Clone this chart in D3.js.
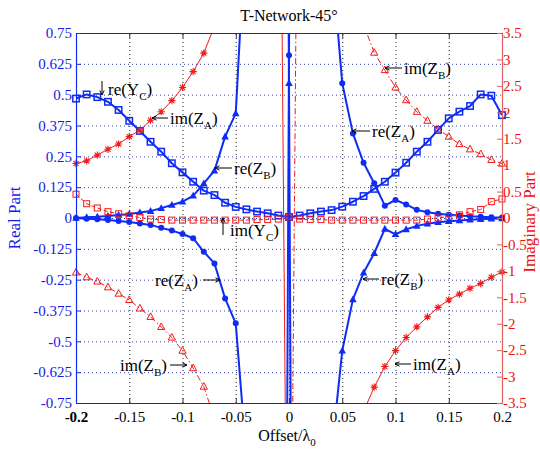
<!DOCTYPE html>
<html><head><meta charset="utf-8">
<script src="https://cdn.jsdelivr.net/npm/d3@7"></script>
<style>body{margin:0;background:#fff}</style>
</head><body><svg id="c" width="540" height="451"></svg>
<script>
// ---------- data ----------
const xTickVals = [-0.2,-0.15,-0.1,-0.05,0,0.05,0.1,0.15,0.2];
const xTickLabels = ["-0.2","-0.15","-0.1","-0.05","0","0.05","0.1","0.15","0.2"];
const leftTickVals = [0.75,0.625,0.5,0.375,0.25,0.125,0,-0.125,-0.25,-0.375,-0.5,-0.625,-0.75];
const leftTickLabels = ["0.75","0.625","0.5","0.375","0.25","0.125","0","-0.125","-0.25","-0.375","-0.5","-0.625","-0.75"];
const rightTickVals = [3.5,3,2.5,2,1.5,1,0.5,0,-0.5,-1,-1.5,-2,-2.5,-3,-3.5];
const rightTickLabels = ["3.5","3","2.5","2","1.5","1","0.5","0","-0.5","-1","-1.5","-2","-2.5","-3","-3.5"];

const offset = [-0.20,-0.19,-0.18,-0.17,-0.16,-0.15,-0.14,-0.13,-0.12,-0.11,-0.10,-0.09,-0.08,-0.07,-0.06,-0.05,-0.04,-0.03,-0.02,-0.01,0,
  0.01,0.02,0.03,0.04,0.05,0.06,0.07,0.08,0.09,0.10,0.11,0.12,0.13,0.14,0.15,0.16,0.17,0.18,0.19,0.20];
const reYC = [0.484,0.501,0.49,0.471,0.438,0.394,0.353,0.309,0.269,0.222,0.185,0.147,0.111,0.093,0.062,0.045,0.035,0.026,0.019,0.01,0.004,
  0.01,0.019,0.026,0.032,0.046,0.066,0.089,0.118,0.147,0.184,0.224,0.269,0.309,0.357,0.404,0.431,0.454,0.501,0.496,0.417];
const imYC = [0.45,0.27,0.19,0.12,0.08,0.04,0.01,-0.02,-0.03,-0.04,-0.04,-0.04,-0.04,-0.04,-0.04,-0.04,-0.04,-0.03,-0.03,-0.02,0.02,
  -0.02,-0.03,-0.03,-0.04,-0.04,-0.04,-0.04,-0.04,-0.04,-0.04,-0.04,-0.04,-0.02,0.0,0.03,0.06,0.12,0.16,0.31,0.36];

const zOffset = [-0.20,-0.19,-0.18,-0.17,-0.16,-0.15,-0.14,-0.13,-0.12,-0.11,-0.10,-0.09,-0.08,-0.07,-0.06,-0.05,-0.04,
  -0.01,0,0.01,
  0.04,0.05,0.06,0.07,0.08,0.09,0.10,0.11,0.12,0.13,0.14,0.15,0.16,0.17,0.18,0.19,0.20];
const reZA = [0,-0.003,-0.005,-0.008,-0.012,-0.016,-0.022,-0.028,-0.04,-0.051,-0.065,-0.082,-0.137,-0.184,-0.326,-0.427,-0.97,
  -8,0.66,8,
  1.06,0.546,0.343,0.224,0.141,0.05,0.073,0.055,0.033,0.023,0.017,0.013,0.01,0.007,0.005,0.003,0.002];
const reZB = [0,0.003,0.005,0.008,0.012,0.016,0.022,0.028,0.04,0.053,0.066,0.09,0.14,0.192,0.33,0.424,1.24,
  8,0.546,-8,
  -0.95,-0.538,-0.33,-0.222,-0.143,-0.044,-0.066,-0.046,-0.032,-0.023,-0.017,-0.013,-0.01,-0.007,-0.005,-0.003,-0.002];

const imZAOffset = [-0.20,-0.19,-0.18,-0.17,-0.16,-0.15,-0.14,-0.13,-0.12,-0.11,-0.10,-0.09,-0.08,-0.07,
  -0.01,0,
  0.07,0.08,0.09,0.10,0.11,0.12,0.13,0.14,0.15,0.16,0.17,0.18,0.19,0.20];
const imZA = [1.03,1.08,1.19,1.30,1.40,1.54,1.66,1.85,2.01,2.22,2.47,2.77,3.12,3.63,
  12,-12,
  -3.66,-3.2,-2.81,-2.51,-2.26,-2.06,-1.87,-1.69,-1.55,-1.44,-1.33,-1.24,-1.12,-1.02];
const imZBOffset = [-0.20,-0.19,-0.18,-0.17,-0.16,-0.15,-0.14,-0.13,-0.12,-0.11,-0.10,-0.09,-0.08,-0.07,
  0,0.01,
  0.07,0.08,0.09,0.10,0.11,0.12,0.13,0.14,0.15,0.16,0.17,0.18,0.19,0.20];
const imZB = [-1.03,-1.12,-1.2,-1.31,-1.43,-1.55,-1.71,-1.87,-2.06,-2.26,-2.51,-2.84,-3.19,-3.79,
  -12,12,
  3.66,3.13,2.8,2.47,2.23,2.01,1.84,1.68,1.54,1.40,1.30,1.21,1.10,1.03];

// ---------- layout ----------
const L = 76, R = 502, T = 33, B = 403;
const BLUE = "#0f2cf5", RED = "#f21a1a", RAXIS = "#e06060";
const FONT = "'Liberation Serif','Times New Roman',serif";

const svg = d3.select("#c");
const x = d3.scaleLinear().domain([-0.2, 0.2]).range([L, R]);
const yL = d3.scaleLinear().domain([-0.75, 0.75]).range([B, T]);
const yR = d3.scaleLinear().domain([-3.5, 3.5]).range([B, T]);

svg.append("defs").append("clipPath").attr("id", "clip")
  .append("rect").attr("x", L).attr("y", T).attr("width", R - L).attr("height", B - T);

// grid
const grid = svg.append("g");
grid.append("g").attr("transform", `translate(0,${B})`)
  .call(d3.axisBottom(x).tickValues(xTickVals.slice(1, -1)).tickSize(-(B - T)).tickFormat(""))
  .call(g => { g.select(".domain").remove(); g.selectAll("line").attr("stroke", "#222").attr("stroke-dasharray", "1,3"); });
grid.append("g").attr("transform", `translate(${L},0)`)
  .call(d3.axisLeft(yL).tickValues(leftTickVals.slice(1, -1)).tickSize(-(R - L)).tickFormat(""))
  .call(g => { g.select(".domain").remove(); g.selectAll("line").attr("stroke", "#3344aa").attr("stroke-dasharray", "1,3"); });

// series helpers
function drawLine(xs, ys, yScale, color, width, dash) {
  const pts = xs.map((d, i) => [d, ys[i]]);
  svg.append("path").datum(pts).attr("clip-path", "url(#clip)")
    .attr("fill", "none").attr("stroke", color).attr("stroke-width", width)
    .attr("stroke-dasharray", dash || null).attr("stroke-linejoin", "round")
    .attr("d", d3.line().x(p => x(p[0])).y(p => yScale(p[1])));
}
function drawMarkers(xs, ys, yScale, kind, color, lo, hi) {
  const g = svg.append("g");
  xs.forEach((d, i) => {
    const v = ys[i];
    if (v < lo - 1e-9 || v > hi + 1e-9) return;
    const px = x(d), py = yScale(v);
    if (kind === "sqB") g.append("rect").attr("x", px - 3.2).attr("y", py - 3.2).attr("width", 6.4).attr("height", 6.4)
      .attr("fill", "none").attr("stroke", color).attr("stroke-width", 1.5);
    else if (kind === "sqR") g.append("rect").attr("x", px - 3).attr("y", py - 3).attr("width", 6).attr("height", 6)
      .attr("fill", "none").attr("stroke", color).attr("stroke-width", 1);
    else if (kind === "dot") g.append("circle").attr("cx", px).attr("cy", py).attr("r", 3).attr("fill", color);
    else if (kind === "triF") g.append("path").attr("d", `M${px},${py - 4}L${px + 3.8},${py + 2.8}L${px - 3.8},${py + 2.8}Z`).attr("fill", color);
    else if (kind === "triR") g.append("path").attr("d", `M${px},${py - 4}L${px + 3.6},${py + 2.6}L${px - 3.6},${py + 2.6}Z`)
      .attr("fill", "none").attr("stroke", color).attr("stroke-width", 1);
    else if (kind === "star") {
      const r = 3.6, q = r * 0.7071;
      g.append("path").attr("d", `M${px - r},${py}L${px + r},${py}M${px},${py - r}L${px},${py + r}M${px - q},${py - q}L${px + q},${py + q}M${px - q},${py + q}L${px + q},${py - q}`)
        .attr("stroke", color).attr("stroke-width", 1.1);
    }
  });
}

// blue (left axis) series
drawLine(offset, reYC, yL, BLUE, 2);
drawLine(zOffset, reZA, yL, BLUE, 2);
drawLine(zOffset, reZB, yL, BLUE, 2);
drawMarkers(offset, reYC, yL, "sqB", BLUE, -0.75, 0.75);
drawMarkers(zOffset, reZA, yL, "dot", BLUE, -0.75, 0.75);
drawMarkers(zOffset, reZB, yL, "triF", BLUE, -0.75, 0.75);

// red (right axis) series
drawLine(offset, imYC, yR, RED, 1, "4,2.5");
drawLine(imZAOffset, imZA, yR, RED, 1);
drawLine(imZBOffset, imZB, yR, RED, 1, "6,2.5,1.5,2.5");
drawMarkers(offset, imYC, yR, "sqR", RED, -3.5, 3.5);
drawMarkers(imZAOffset, imZA, yR, "star", RED, -3.5, 3.5);
drawMarkers(imZBOffset, imZB, yR, "triR", RED, -3.5, 3.5);

// axes
const axB = svg.append("g").attr("transform", `translate(0,${B})`)
  .call(d3.axisBottom(x).tickValues(xTickVals).tickSizeInner(-5).tickSizeOuter(0).tickPadding(8).tickFormat((d, i) => xTickLabels[i]));
axB.select(".domain").attr("stroke", "#333");
axB.selectAll("line").attr("stroke", "#333");
axB.selectAll("text").attr("font-family", FONT).attr("font-size", 15).attr("fill", "#000")
  .attr("font-weight", (d, i) => i === 0 ? "bold" : null);
const axT = svg.append("g").attr("transform", `translate(0,${T})`)
  .call(d3.axisTop(x).tickValues(xTickVals).tickSizeInner(-5).tickSizeOuter(0).tickFormat(""));
axT.select(".domain").attr("stroke", "#333");
axT.selectAll("line").attr("stroke", "#333");

const axL = svg.append("g").attr("transform", `translate(${L},0)`)
  .call(d3.axisLeft(yL).tickValues(leftTickVals).tickSizeInner(-5).tickSizeOuter(0).tickPadding(4).tickFormat((d, i) => leftTickLabels[i]));
axL.select(".domain").attr("stroke", BLUE).attr("stroke-width", 1.2);
axL.selectAll("line").attr("stroke", BLUE);
axL.selectAll("text").attr("font-family", FONT).attr("font-size", 15).attr("fill", "#1a1ae6");

const axR = svg.append("g").attr("transform", `translate(${R},0)`)
  .call(d3.axisRight(yR).tickValues(rightTickVals).tickSizeInner(-5).tickSizeOuter(0).tickPadding(1).tickFormat((d, i) => rightTickLabels[i]));
axR.select(".domain").attr("stroke", RAXIS).attr("stroke-width", 1.2);
axR.selectAll("line").attr("stroke", RAXIS);
axR.selectAll("text").attr("font-family", FONT).attr("font-size", 15).attr("fill", "#ee1111");

// titles
svg.append("text").attr("x", 289).attr("y", 21).attr("text-anchor", "middle")
  .attr("font-family", FONT).attr("font-size", 16).text("T-Network-45°");
const xl = svg.append("text").attr("x", 287).attr("y", 441).attr("text-anchor", "middle")
  .attr("font-family", FONT).attr("font-size", 16);
xl.append("tspan").text("Offset/λ");
xl.append("tspan").attr("font-size", 11).attr("dy", 5).text("0");
svg.append("text").attr("transform", "translate(20,218) rotate(-90)").attr("text-anchor", "middle")
  .attr("font-family", FONT).attr("font-size", 17).attr("fill", "#1a1ae6").text("Real Part");
svg.append("text").attr("transform", "translate(535,222) rotate(-90)").attr("text-anchor", "middle")
  .attr("font-family", FONT).attr("font-size", 17).attr("fill", "#ee1111").text("Imaginary Part");

// annotations
function note(px, py, main, sub) {
  const t = svg.append("text").attr("x", px).attr("y", py).attr("font-family", FONT).attr("font-size", 17).attr("fill", "#000");
  t.append("tspan").text(main);
  t.append("tspan").attr("font-size", 11).attr("dy", 5).text(sub);
  t.append("tspan").attr("dy", -5).text(")");
}
function arrow(x1, y1, x2, y2) {
  const a = Math.atan2(y2 - y1, x2 - x1), h = 5, s = 0.45;
  svg.append("path")
    .attr("d", `M${x1},${y1}L${x2},${y2}M${x2 - h * Math.cos(a - s)},${y2 - h * Math.sin(a - s)}L${x2},${y2}L${x2 - h * Math.cos(a + s)},${y2 - h * Math.sin(a + s)}`)
    .attr("fill", "none").attr("stroke", "#000").attr("stroke-width", 1);
}
arrow(102, 81, 102, 95);   note(108, 95, "re(Y", "C");
arrow(168, 118, 152, 118); note(170, 124, "im(Z", "A");
arrow(232, 168, 215, 168); note(234, 174, "re(Z", "B");
arrow(402, 68, 385, 68);   note(404, 74, "im(Z", "B");
arrow(370, 131, 352, 131); note(372, 137, "re(Z", "A");
arrow(223, 235, 223, 218); note(230, 236, "im(Y", "C");
note(155, 286, "re(Z", "A");  arrow(203, 280, 220, 280);
note(120, 371, "im(Z", "B");  arrow(170, 365, 187, 365);
arrow(379, 279, 363, 279); note(381, 285, "re(Z", "B");
arrow(411, 364, 395, 364); note(413, 370, "im(Z", "A");
</script></body></html>
